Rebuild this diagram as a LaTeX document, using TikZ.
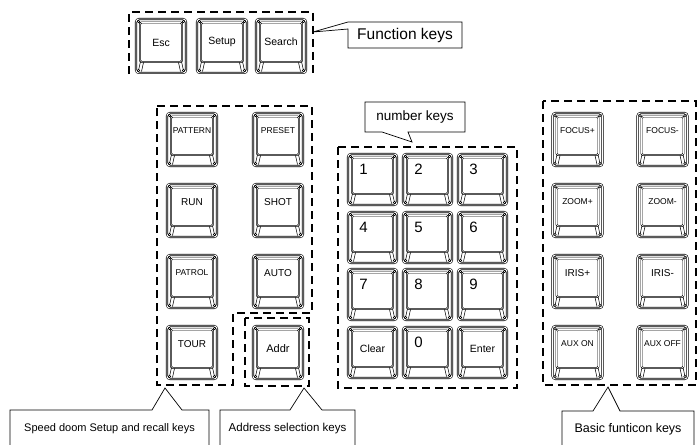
\documentclass[tikz,border=0pt]{standalone}
\usepackage{fontspec}
\setmainfont{Liberation Sans}
\usetikzlibrary{calc}
\newcommand\kfs[1]{\fontsize{#1}{#1}\selectfont}
\tikzset{
  keybase/.style={draw, double, double distance=0.9pt, line width=0.6pt, rounded corners=3pt, inner sep=0pt, outer sep=0pt, fill=white},
  bigkey/.style={keybase, minimum width=50pt, minimum height=53pt},
  numkey/.style={keybase, minimum width=49pt, minimum height=51pt},
  fnkey/.style={keybase, minimum width=50pt, minimum height=54pt},
  keyface/.style={draw, double, double distance=0.7pt, line width=0.55pt, rounded corners=1.5pt},
  keythin/.style={draw, line width=0.55pt},
  keydot/.style={draw, line width=0.55pt, fill=white},
  grpbox/.style={draw, line width=1.8pt, dash pattern=on 8pt off 5pt, line join=miter},
  callout/.style={draw, line width=0.7pt, line join=miter},
  calloutbox/.style={inner sep=0pt, outer sep=0pt},
  keylbl/.style={inner sep=0pt, outer sep=0pt},
}
\newcommand\keydeco[1]{%
  \draw[keyface] ($(#1.north west)+(4,3.5)$) rectangle ($(#1.south east)+(-4,-11)$);
  \draw[keythin] ($(#1.north west)+(2.5,2.5)$) -- ($(#1.north west)+(4.5,4)$)
                 ($(#1.north east)+(-2.5,2.5)$) -- ($(#1.north east)+(-4.5,4)$)
                 ($(#1.south west)+(2.5,-2.5)$) -- ($(#1.south west)+(4.5,-11.5)$)
                 ($(#1.south east)+(-2.5,-2.5)$) -- ($(#1.south east)+(-4.5,-11.5)$)
                 ($(#1.south west)+(5.5,-1.5)$) -- ($(#1.south west)+(7.5,-10.5)$)
                 ($(#1.south east)+(-5.5,-1.5)$) -- ($(#1.south east)+(-7.5,-10.5)$);
  \draw[keydot] ($(#1.north west)+(2.5,2.5)$) circle[radius=1.3]
                ($(#1.north east)+(-2.5,2.5)$) circle[radius=1.3]
                ($(#1.south west)+(2.5,-2.5)$) circle[radius=1.3]
                ($(#1.south east)+(-2.5,-2.5)$) circle[radius=1.3];
}
\newcommand\mkkey[6]{%
  \node[#2] (#1) at (#3,#4) {};
  \keydeco{#1}
  \node[keylbl] (#1-t) at ($(#1.north west)+#5$) {#6};
}
\begin{document}
\begin{tikzpicture}[x=1pt,y=-1pt]
\useasboundingbox (0,0) rectangle (698,444);

% ---------- function keys ----------
\begin{scope}
\clip (100,0) rectangle (330,73.5);
\mkkey{kEsc}{fnkey}{161}{46}{(25,23.5)}{\kfs{10.5}Esc}
\mkkey{kSetup}{fnkey}{222}{46}{(25,22.5)}{\kfs{10.5}Setup}
\mkkey{kSearch}{fnkey}{281}{46}{(25,22.5)}{\kfs{10.5}Search}
\end{scope}
\draw[grpbox] (129,74) -- (129,12) -- (313,12) -- (313,74);
\coordinate (pFn) at (313,32);
\node[calloutbox, minimum width=114pt, minimum height=26pt, font=\kfs{15.5}] (cFn) at (405,35) {Function keys};
\draw[callout] (cFn.north west) -- (cFn.north east) -- (cFn.south east) -- (cFn.south west) -- ($(cFn.north west)+(0,7)$) -- (pFn) -- cycle;

% ---------- speed dome keys ----------
\draw[grpbox] (157,106) -- (312,106) -- (312,313) -- (233,313) -- (233,385) -- (157,385) -- cycle;
\mkkey{kPattern}{bigkey}{192}{139.5}{(25,18)}{\kfs{8.5}PATTERN}
\mkkey{kPreset}{bigkey}{278}{139.5}{(25,18)}{\kfs{8.5}PRESET}
\mkkey{kRun}{bigkey}{192}{210.5}{(25,18)}{\kfs{10}RUN}
\mkkey{kShot}{bigkey}{278}{210.5}{(25,18)}{\kfs{10}SHOT}
\mkkey{kPatrol}{bigkey}{192}{281.5}{(25,18)}{\kfs{8.5}PATROL}
\mkkey{kAuto}{bigkey}{278}{281.5}{(25,18)}{\kfs{10}AUTO}
\mkkey{kTour}{bigkey}{192}{352.5}{(25,18)}{\kfs{10}TOUR}
\draw[grpbox] (245,318) rectangle (309,386);
\mkkey{kAddr}{bigkey}{278}{352.5}{(25,23)}{\kfs{11}Addr}

% ---------- number keys ----------
\draw[grpbox] (338,147) rectangle (517,388);
\mkkey{k1}{numkey}{372.5}{179.5}{(15.5,15.5)}{\kfs{15}1}
\mkkey{k2}{numkey}{427.5}{179.5}{(15.5,15.5)}{\kfs{15}2}
\mkkey{k3}{numkey}{482.5}{179.5}{(15.5,15.5)}{\kfs{15}3}
\mkkey{k4}{numkey}{372.5}{237.5}{(15.5,15.5)}{\kfs{15}4}
\mkkey{k5}{numkey}{427.5}{237.5}{(15.5,15.5)}{\kfs{15}5}
\mkkey{k6}{numkey}{482.5}{237.5}{(15.5,15.5)}{\kfs{15}6}
\mkkey{k7}{numkey}{372.5}{294.5}{(15.5,15.5)}{\kfs{15}7}
\mkkey{k8}{numkey}{427.5}{294.5}{(15.5,15.5)}{\kfs{15}8}
\mkkey{k9}{numkey}{482.5}{294.5}{(15.5,15.5)}{\kfs{15}9}
\mkkey{kClear}{numkey}{372.5}{352.5}{(24.5,22)}{\kfs{10.5}Clear}
\mkkey{k0}{numkey}{427.5}{352.5}{(15.5,15)}{\kfs{15}0}
\mkkey{kEnter}{numkey}{482.5}{352.5}{(24.5,22)}{\kfs{10.5}Enter}
\coordinate (pNum) at (412,142);
\node[calloutbox, minimum width=100pt, minimum height=30pt, font=\kfs{13.5}] (cNum) at (415,117) {number keys};
\draw[callout] (cNum.south west) -- (cNum.north west) -- (cNum.north east) -- (cNum.south east) -- ($(cNum.south west)+(43,0)$) -- (pNum) -- ($(cNum.south west)+(17,0)$) -- cycle;

% ---------- basic function keys ----------
\draw[grpbox] (543,101) rectangle (696,385);
\mkkey{kFocP}{bigkey}{577.5}{139.5}{(25,18)}{\kfs{8.5}FOCUS+}
\mkkey{kFocM}{bigkey}{662.5}{139.5}{(25,18)}{\kfs{8.5}FOCUS-}
\mkkey{kZoomP}{bigkey}{577.5}{210.5}{(25,18)}{\kfs{8.5}ZOOM+}
\mkkey{kZoomM}{bigkey}{662.5}{210.5}{(25,18)}{\kfs{8.5}ZOOM-}
\mkkey{kIrisP}{bigkey}{577.5}{281.5}{(25,18)}{\kfs{10}IRIS+}
\mkkey{kIrisM}{bigkey}{662.5}{281.5}{(25,18)}{\kfs{10}IRIS-}
\mkkey{kAuxOn}{bigkey}{577.5}{352.5}{(25,18)}{\kfs{8.5}AUX ON}
\mkkey{kAuxOff}{bigkey}{662.5}{352.5}{(25,18)}{\kfs{8.5}AUX OFF}

% ---------- bottom callouts ----------
\coordinate (pSpd) at (165,388);
\node[calloutbox, minimum width=199pt, minimum height=38pt, font=\kfs{11}] (cSpd) at (109.5,429) {Speed doom Setup and recall keys};
\draw[callout] (cSpd.south west) -- (cSpd.north west) -- ($(cSpd.north west)+(142,0)$) -- (pSpd) -- ($(cSpd.north west)+(172,0)$) -- (cSpd.north east) -- (cSpd.south east);

\coordinate (pAdr) at (304,388);
\node[calloutbox, minimum width=135pt, minimum height=38pt, font=\kfs{11.5}] (cAdr) at (287.5,429) {Address selection keys};
\draw[callout] (cAdr.south west) -- (cAdr.north west) -- ($(cAdr.north west)+(70,0)$) -- (pAdr) -- ($(cAdr.north west)+(102,0)$) -- (cAdr.north east) -- (cAdr.south east);

\coordinate (pBas) at (608,387);
\node[calloutbox, minimum width=132pt, minimum height=36pt, font=\kfs{12.5}] (cBas) at (628,429) {Basic funticon keys};
\draw[callout] (cBas.south west) -- (cBas.north west) -- ($(cBas.north west)+(31,0)$) -- (pBas) -- ($(cBas.north west)+(58,0)$) -- (cBas.north east) -- (cBas.south east);
\end{tikzpicture}
\end{document}
